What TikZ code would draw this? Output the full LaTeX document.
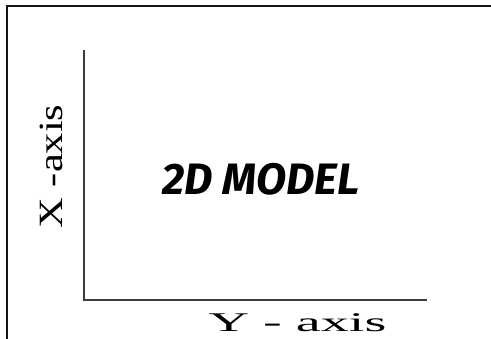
\documentclass[tikz,border=0pt]{standalone}
\usepackage{fontspec}
\setmainfont{Liberation Serif}
\newfontfamily\titlefont{Fira Sans}
\usepackage{xcolor}
\usetikzlibrary{positioning}
\definecolor{ink}{RGB}{20,20,20}
\definecolor{axisgray}{RGB}{60,60,60}

\begin{document}
\begin{tikzpicture}[x=1pt, y=1pt,
  frame/.style={draw=ink, line width=1.6pt},
  axisline/.style={draw=axisgray, line width=1.3pt},
  lbl/.style={inner sep=0pt, anchor=base},
  title/.style={inner sep=0pt, font=\titlefont\bfseries\itshape\fontsize{44}{44}\selectfont},
]
\useasboundingbox (0,0) rectangle (491,339);
\coordinate (frametop) at (491,333);
\coordinate (framecorner) at (7,333);
\coordinate (framebot) at (7,0);
\coordinate (ytop) at (84,289);
\coordinate (origin) at (84,39);
\coordinate (xend) at (427,39);
\draw[frame] (frametop) -- (framecorner) -- (framebot);
\draw[axisline] (ytop) -- (origin) -- (xend);
\node[lbl, rotate=90, font=\fontsize{34}{34}\selectfont] (xlabel) at (63,172.5) {\scalebox{1.25}[1]{X -axis}};
\node[lbl, font=\fontsize{27}{27}\selectfont] (ylabel) at (297.5,7) {\scalebox{2.08}[1]{Y - axis}};
\node[title] (model) at (261,160) {2D MODEL};
\end{tikzpicture}
\end{document}
